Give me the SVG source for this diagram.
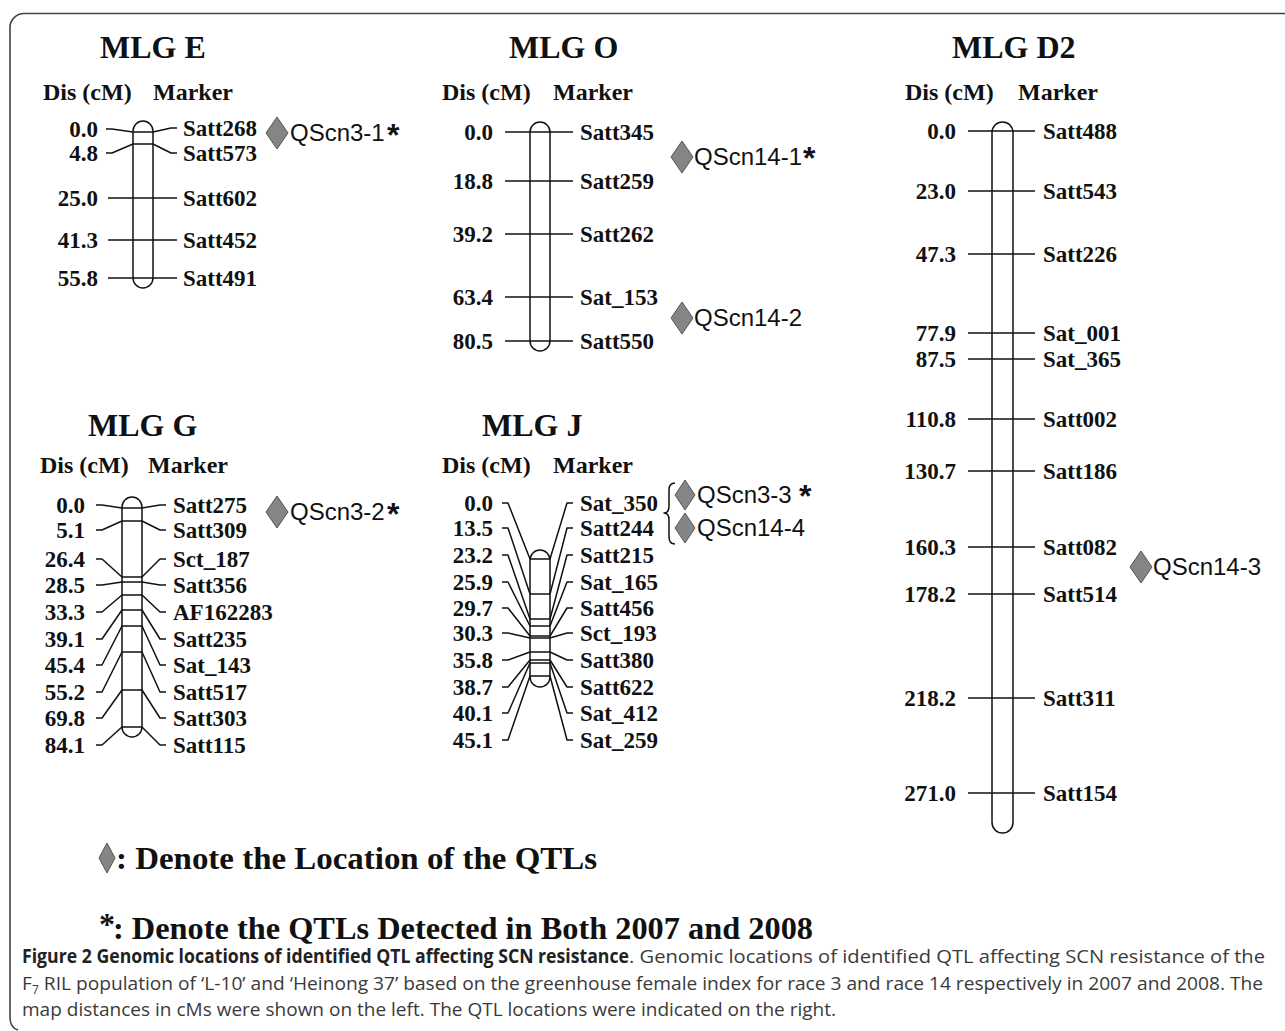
<svg xmlns="http://www.w3.org/2000/svg" width="1285" height="1031" viewBox="0 0 1285 1031">
<style>
.t{font-family:"Liberation Serif","Times New Roman",serif;font-weight:bold;fill:#111}
.title{font-size:32px}
.hdr{font-size:24px}
.lab{font-size:23px}
.num{font-size:23px;text-anchor:end}
.q{font-family:"Liberation Sans",Arial,sans-serif;font-size:24px;fill:#111}
.ast{font-family:"Liberation Sans",Arial,sans-serif;font-size:32px;font-weight:bold;fill:#111}
.chr{fill:#fff;stroke:#111;stroke-width:1.5}
.ln{fill:none;stroke:#111;stroke-width:1.5;stroke-linejoin:round}
.dia{fill:#858585;stroke:#555;stroke-width:1}
.leg{font-size:32px}
.capb{font-family:"Open Sans","Liberation Sans",sans-serif;font-weight:bold;font-size:19px;fill:#222}
.capr{font-family:"Open Sans","Liberation Sans",sans-serif;font-size:19px;fill:#3a3a3a}
</style>
<rect width="1285" height="1031" fill="#fff"/>
<path d="M1285 13.5 H24 A14 14 0 0 0 10 27.5 V1017 Q10 1028 18 1030" fill="none" stroke="#444" stroke-width="1.6"/>

<!-- MLG E -->
<g id="mlg-e">
<text class="t title" x="100" y="58">MLG E</text>
<text class="t hdr" x="43" y="100">Dis (cM)</text>
<text class="t hdr" x="153" y="100">Marker</text>
<rect class="chr" x="133" y="121" width="20" height="167" rx="10"/>
<g class="connectors">
<polyline class="ln" points="106,129 112,129 133,132 153,132 171,128 177,128"/>
<polyline class="ln" points="106,153 112,153 133,144 153,144 171,153 177,153"/>
<polyline class="ln" points="108,198 177,198"/>
<polyline class="ln" points="108,240 177,240"/>
<polyline class="ln" points="108,278 177,278"/>
</g>
<text class="t num" x="98" y="137">0.0</text>
<text class="t num" x="98" y="161">4.8</text>
<text class="t num" x="98" y="206">25.0</text>
<text class="t num" x="98" y="248">41.3</text>
<text class="t num" x="98" y="286">55.8</text>
<text class="t lab" x="183" y="136">Satt268</text>
<text class="t lab" x="183" y="161">Satt573</text>
<text class="t lab" x="183" y="206">Satt602</text>
<text class="t lab" x="183" y="248">Satt452</text>
<text class="t lab" x="183" y="286">Satt491</text>
<polygon class="dia" points="277,117 288,133 277,149 266,133"/>
<text class="q" x="290" y="141">QScn3-1</text>
<text class="ast" x="387" y="146">*</text>
</g>

<!-- MLG O -->
<g id="mlg-o">
<text class="t title" x="509" y="58">MLG O</text>
<text class="t hdr" x="442" y="100">Dis (cM)</text>
<text class="t hdr" x="553" y="100">Marker</text>
<rect class="chr" x="530" y="122" width="20" height="229" rx="10"/>
<g class="connectors">
<polyline class="ln" points="505,132 573,132"/>
<polyline class="ln" points="505,181 573,181"/>
<polyline class="ln" points="505,234 573,234"/>
<polyline class="ln" points="505,297 573,297"/>
<polyline class="ln" points="505,341 573,341"/>
</g>
<text class="t num" x="493" y="140">0.0</text>
<text class="t num" x="493" y="189">18.8</text>
<text class="t num" x="493" y="242">39.2</text>
<text class="t num" x="493" y="305">63.4</text>
<text class="t num" x="493" y="349">80.5</text>
<text class="t lab" x="580" y="140">Satt345</text>
<text class="t lab" x="580" y="189">Satt259</text>
<text class="t lab" x="580" y="242">Satt262</text>
<text class="t lab" x="580" y="305">Sat_153</text>
<text class="t lab" x="580" y="349">Satt550</text>
<polygon class="dia" points="682,141 693,157 682,173 671,157"/>
<text class="q" x="694" y="165">QScn14-1</text>
<text class="ast" x="803" y="169">*</text>
<polygon class="dia" points="682,302 693,318 682,334 671,318"/>
<text class="q" x="694" y="326">QScn14-2</text>
</g>

<!-- MLG D2 -->
<g id="mlg-d2">
<text class="t title" x="952" y="58">MLG D2</text>
<text class="t hdr" x="905" y="100">Dis (cM)</text>
<text class="t hdr" x="1018" y="100">Marker</text>
<rect class="chr" x="992" y="122" width="21" height="711" rx="10.5"/>
<g class="connectors">
<polyline class="ln" points="968,131 1035,131"/>
<polyline class="ln" points="968,191 1035,191"/>
<polyline class="ln" points="968,254 1035,254"/>
<polyline class="ln" points="968,333 1035,333"/>
<polyline class="ln" points="968,359 1035,359"/>
<polyline class="ln" points="968,419 1035,419"/>
<polyline class="ln" points="968,471 1035,471"/>
<polyline class="ln" points="968,547 1035,547"/>
<polyline class="ln" points="968,594 1035,594"/>
<polyline class="ln" points="968,698 1035,698"/>
<polyline class="ln" points="968,793 1035,793"/>
</g>
<text class="t num" x="956" y="139">0.0</text>
<text class="t num" x="956" y="199">23.0</text>
<text class="t num" x="956" y="262">47.3</text>
<text class="t num" x="956" y="341">77.9</text>
<text class="t num" x="956" y="367">87.5</text>
<text class="t num" x="956" y="427">110.8</text>
<text class="t num" x="956" y="479">130.7</text>
<text class="t num" x="956" y="555">160.3</text>
<text class="t num" x="956" y="602">178.2</text>
<text class="t num" x="956" y="706">218.2</text>
<text class="t num" x="956" y="801">271.0</text>
<text class="t lab" x="1043" y="139">Satt488</text>
<text class="t lab" x="1043" y="199">Satt543</text>
<text class="t lab" x="1043" y="262">Satt226</text>
<text class="t lab" x="1043" y="341">Sat_001</text>
<text class="t lab" x="1043" y="367">Sat_365</text>
<text class="t lab" x="1043" y="427">Satt002</text>
<text class="t lab" x="1043" y="479">Satt186</text>
<text class="t lab" x="1043" y="555">Satt082</text>
<text class="t lab" x="1043" y="602">Satt514</text>
<text class="t lab" x="1043" y="706">Satt311</text>
<text class="t lab" x="1043" y="801">Satt154</text>
<polygon class="dia" points="1141,551 1152,567 1141,583 1130,567"/>
<text class="q" x="1153" y="575">QScn14-3</text>
</g>

<!-- MLG G -->
<g id="mlg-g">
<text class="t title" x="88" y="436">MLG G</text>
<text class="t hdr" x="40" y="473">Dis (cM)</text>
<text class="t hdr" x="148" y="473">Marker</text>
<rect class="chr" x="122" y="497" width="20" height="240" rx="10"/>
<g class="connectors">
<polyline class="ln" points="96,505 102,505 122,508 142,508 160,505 166,505"/>
<polyline class="ln" points="96,530 102,530 122,521 142,521 160,530 166,530"/>
<polyline class="ln" points="96,559 102,559 122,577 142,577 160,559 166,559"/>
<polyline class="ln" points="96,585 102,585 122,582 142,582 160,585 166,585"/>
<polyline class="ln" points="96,612 102,612 122,595 142,595 160,612 166,612"/>
<polyline class="ln" points="96,639 102,639 122,610 142,610 160,639 166,639"/>
<polyline class="ln" points="96,665 102,665 122,626 142,626 160,665 166,665"/>
<polyline class="ln" points="96,692 102,692 122,652 142,652 160,692 166,692"/>
<polyline class="ln" points="96,718 102,718 122,690 142,690 160,718 166,718"/>
<polyline class="ln" points="96,745 102,745 122,727 142,727 160,745 166,745"/>
</g>
<text class="t num" x="85" y="513">0.0</text>
<text class="t num" x="85" y="538">5.1</text>
<text class="t num" x="85" y="567">26.4</text>
<text class="t num" x="85" y="593">28.5</text>
<text class="t num" x="85" y="620">33.3</text>
<text class="t num" x="85" y="647">39.1</text>
<text class="t num" x="85" y="673">45.4</text>
<text class="t num" x="85" y="700">55.2</text>
<text class="t num" x="85" y="726">69.8</text>
<text class="t num" x="85" y="753">84.1</text>
<text class="t lab" x="173" y="513">Satt275</text>
<text class="t lab" x="173" y="538">Satt309</text>
<text class="t lab" x="173" y="567">Sct_187</text>
<text class="t lab" x="173" y="593">Satt356</text>
<text class="t lab" x="173" y="620">AF162283</text>
<text class="t lab" x="173" y="647">Satt235</text>
<text class="t lab" x="173" y="673">Sat_143</text>
<text class="t lab" x="173" y="700">Satt517</text>
<text class="t lab" x="173" y="726">Satt303</text>
<text class="t lab" x="173" y="753">Satt115</text>
<polygon class="dia" points="277,496 288,512 277,528 266,512"/>
<text class="q" x="290" y="520">QScn3-2</text>
<text class="ast" x="387" y="525">*</text>
</g>

<!-- MLG J -->
<g id="mlg-j">
<text class="t title" x="482" y="436">MLG J</text>
<text class="t hdr" x="442" y="473">Dis (cM)</text>
<text class="t hdr" x="553" y="473">Marker</text>
<rect class="chr" x="530" y="550" width="20" height="137" rx="10"/>
<g class="connectors">
<polyline class="ln" points="502,503 508,503 530,559 550,559 567,503 573,503"/>
<polyline class="ln" points="502,528 508,528 530,594 550,594 567,528 573,528"/>
<polyline class="ln" points="502,555 508,555 530,619 550,619 567,555 573,555"/>
<polyline class="ln" points="502,582 508,582 530,626 550,626 567,582 573,582"/>
<polyline class="ln" points="502,608 508,608 530,636 550,636 567,608 573,608"/>
<polyline class="ln" points="502,633 508,633 530,638 550,638 567,633 573,633"/>
<polyline class="ln" points="502,660 508,660 530,652 550,652 567,660 573,660"/>
<polyline class="ln" points="502,687 508,687 530,660 550,660 567,687 573,687"/>
<polyline class="ln" points="502,713 508,713 530,663 550,663 567,713 573,713"/>
<polyline class="ln" points="502,740 508,740 530,676 550,676 567,740 573,740"/>
</g>
<text class="t num" x="493" y="511">0.0</text>
<text class="t num" x="493" y="536">13.5</text>
<text class="t num" x="493" y="563">23.2</text>
<text class="t num" x="493" y="590">25.9</text>
<text class="t num" x="493" y="616">29.7</text>
<text class="t num" x="493" y="641">30.3</text>
<text class="t num" x="493" y="668">35.8</text>
<text class="t num" x="493" y="695">38.7</text>
<text class="t num" x="493" y="721">40.1</text>
<text class="t num" x="493" y="748">45.1</text>
<text class="t lab" x="580" y="511">Sat_350</text>
<text class="t lab" x="580" y="536">Satt244</text>
<text class="t lab" x="580" y="563">Satt215</text>
<text class="t lab" x="580" y="590">Sat_165</text>
<text class="t lab" x="580" y="616">Satt456</text>
<text class="t lab" x="580" y="641">Sct_193</text>
<text class="t lab" x="580" y="668">Satt380</text>
<text class="t lab" x="580" y="695">Satt622</text>
<text class="t lab" x="580" y="721">Sat_412</text>
<text class="t lab" x="580" y="748">Sat_259</text>
<path class="ln" d="M675 483 Q669 483 669 490 V506 Q669 513 664 513 Q669 513 669 520 V537 Q669 544 675 544"/>
<polygon class="dia" points="685,480 695,495 685,510 675,495"/>
<polygon class="dia" points="685,513 695,528 685,543 675,528"/>
<text class="q" x="697" y="503">QScn3-3</text>
<text class="ast" x="799" y="507">*</text>
<text class="q" x="697" y="536">QScn14-4</text>
</g>

<!-- Legend -->
<g id="legend">
<polygon class="dia" points="107,843 115,858 107,873 99,858"/>
<text class="t leg" x="116" y="869" textLength="481" lengthAdjust="spacingAndGlyphs">: Denote the Location of the QTLs</text>
<text class="t leg" x="99" y="935">*</text>
<text class="t leg" x="113" y="939" textLength="700" lengthAdjust="spacingAndGlyphs">: Denote the QTLs Detected in Both 2007 and 2008</text>
</g>

<!-- Caption -->
<g id="caption">
<text class="capb" x="22" y="963" textLength="607" lengthAdjust="spacingAndGlyphs">Figure 2 Genomic locations of identified QTL affecting SCN resistance</text>
<text class="capr" x="629" y="963" textLength="636" lengthAdjust="spacingAndGlyphs">. Genomic locations of identified QTL affecting SCN resistance of the</text>
<text class="capr" x="22" y="990" textLength="1241" lengthAdjust="spacingAndGlyphs">F<tspan font-size="12" dy="4">7</tspan><tspan dy="-4"> RIL population of ‘L-10’ and ‘Heinong 37’ based on the greenhouse female index for race 3 and race 14 respectively in 2007 and 2008. The</tspan></text>
<text class="capr" x="22" y="1016" textLength="814" lengthAdjust="spacingAndGlyphs">map distances in cMs were shown on the left. The QTL locations were indicated on the right.</text>
</g>
</svg>
